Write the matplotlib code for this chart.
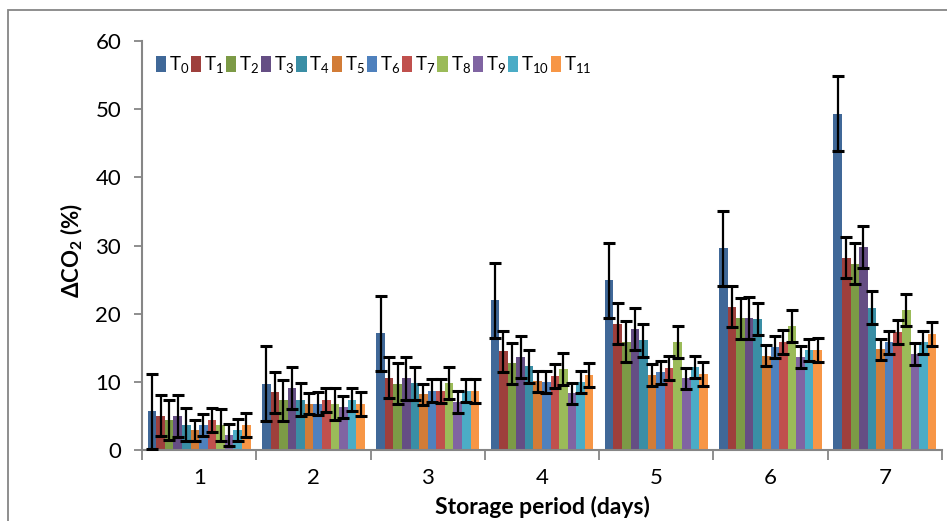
import numpy as np
import matplotlib.pyplot as plt
from matplotlib.patches import Rectangle

plt.rcParams['font.family'] = ['Lato', 'DejaVu Sans']
plt.rcParams['mathtext.fontset'] = 'custom'
plt.rcParams['mathtext.rm'] = 'Lato'
plt.rcParams['mathtext.bf'] = 'Lato:bold'

# Data
days = ['1', '2', '3', '4', '5', '6', '7']
series = ['T$_{0}$', 'T$_{1}$', 'T$_{2}$', 'T$_{3}$', 'T$_{4}$', 'T$_{5}$',
          'T$_{6}$', 'T$_{7}$', 'T$_{8}$', 'T$_{9}$', 'T$_{10}$', 'T$_{11}$']

t0 = [5.7, 9.7, 17.1, 22.0, 24.9, 29.6, 49.3]
t1 = [5.0, 8.5, 10.6, 14.5, 18.5, 21.0, 28.2]
t2 = [4.4, 7.3, 9.7, 12.7, 15.9, 19.3, 27.3]
t3 = [5.0, 9.1, 10.5, 13.6, 17.8, 19.4, 29.8]
t4 = [3.7, 7.4, 9.8, 12.3, 16.1, 19.2, 20.9]
t5 = [2.9, 6.8, 8.2, 10.1, 11.0, 13.8, 14.8]
t6 = [3.7, 6.8, 8.7, 10.0, 11.4, 15.1, 15.8]
t7 = [4.4, 7.3, 8.6, 10.9, 12.0, 15.8, 17.3]
t8 = [3.7, 6.8, 9.8, 11.9, 15.8, 18.2, 20.6]
t9 = [2.2, 6.3, 7.1, 8.3, 10.5, 13.7, 14.1]
t10 = [2.9, 7.4, 8.7, 10.0, 12.2, 14.7, 15.8]
t11 = [3.7, 6.8, 8.7, 11.0, 11.2, 14.7, 17.0]
values = [t0, t1, t2, t3, t4, t5, t6, t7, t8, t9, t10, t11]

# error bar half-widths per treatment
errors = [5.5, 3.0, 3.0, 3.1, 2.4, 1.55, 1.65, 1.75, 2.35, 1.6, 1.65, 1.75]

colors = ['#406898', '#9e3f3c', '#7c9a46', '#654e84', '#3a8ea5', '#d27c37',
          '#4f81bd', '#c0504d', '#9bbb59', '#8064a2', '#4bacc6', '#f79646']

fig = plt.figure(figsize=(9.47, 5.21), dpi=100)
ax = fig.add_axes([142 / 947, 1 - 450 / 521, 800 / 947, 409 / 521])

x = np.arange(len(days))
n = len(series)
width = 0.9 / n
for i in range(n):
    pos = x - 0.45 + width * (i + 0.5)
    ax.bar(pos, values[i], width, color=colors[i], label=series[i], zorder=2)
    ax.errorbar(pos, values[i], yerr=errors[i], fmt='none', ecolor='black',
                elinewidth=1.6, capsize=4.5, capthick=2.2, zorder=3)

ax.set_xlim(-0.5, len(days) - 0.5)
ax.set_ylim(0, 60)
ax.set_yticks(np.arange(0, 61, 10))
ax.set_xticks(x)
ax.set_xticklabels(days)
ax.set_xticks(np.arange(-0.5, len(days)), minor=True)

for s in ['top', 'right']:
    ax.spines[s].set_visible(False)
for s in ['left', 'bottom']:
    ax.spines[s].set_color('#868686')
    ax.spines[s].set_linewidth(1.5)

ax.tick_params(axis='y', direction='out', length=6, width=1.3, color='#868686',
               labelsize=16, pad=9)
ax.tick_params(axis='x', which='major', length=0, labelsize=16, pad=13)
ax.tick_params(axis='x', which='minor', direction='out', length=7, width=1.3,
               color='#868686')

ax.legend(loc='center left', bbox_to_anchor=(0.017, 0.941), ncol=12,
          frameon=False, fontsize=13.5, handlelength=0.55, handleheight=1.0,
          handletextpad=0.15, columnspacing=0.1, borderpad=0, borderaxespad=0)

fig.text(542 / 947, 1 - 507 / 521, 'Storage period (days)', ha='center',
         va='center', fontsize=16.5, fontweight='bold')
fig.text(72 / 947, 1 - 250 / 521, r'ΔCO$_\mathbf{2}$ (%)', ha='center',
         va='center', rotation=90, fontsize=16, fontweight='bold')

# outer chart border
fig.patches.append(Rectangle((8 / 947, -0.1), 1.2, 1.1 - 10 / 521,
                             transform=fig.transFigure, fill=False,
                             edgecolor='#868686', linewidth=1.3))

fig.savefig('out.png', dpi=100)
